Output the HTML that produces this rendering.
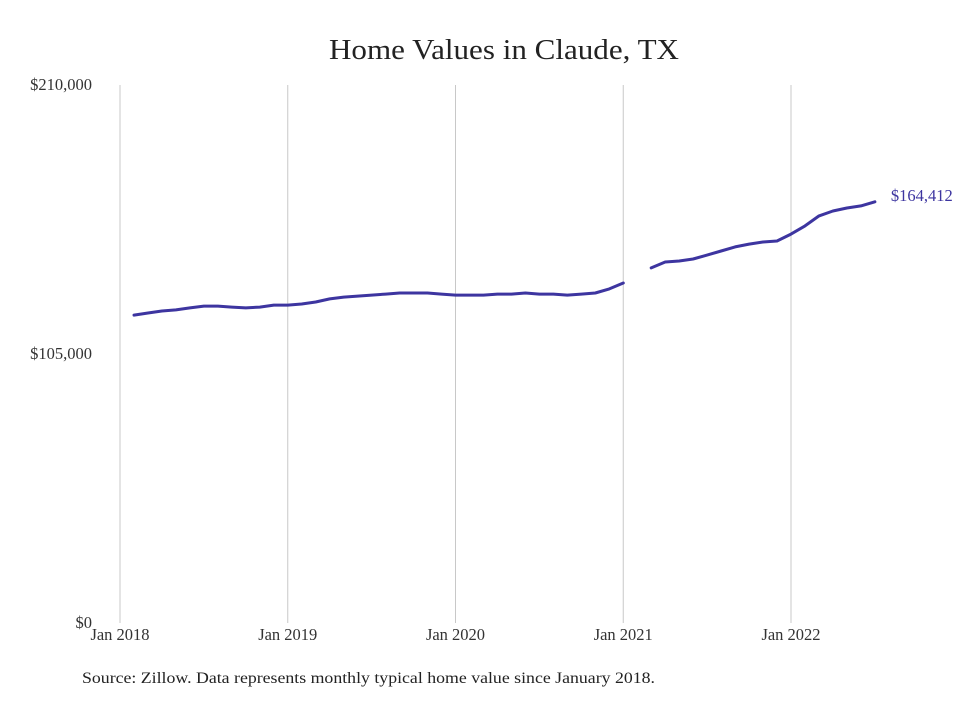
<!DOCTYPE html>
<html><head><meta charset="utf-8"><style>
body{margin:0;background:#fff;}
svg text{font-family:"Liberation Serif",serif;}
</style></head><body>
<svg width="980" height="699" xmlns="http://www.w3.org/2000/svg">
<rect width="980" height="699" fill="#fff"/>
<text x="504" y="59" text-anchor="middle" font-size="29" textLength="350" lengthAdjust="spacingAndGlyphs" fill="#222">Home Values in Claude, TX</text>
<g id="grid"></g><g id="ylab"></g><g id="xlab"></g><g id="series"></g>
<text x="82" y="683" font-size="16" textLength="573" lengthAdjust="spacingAndGlyphs" fill="#222">Source: Zillow. Data represents monthly typical home value since January 2018.</text>
</svg>
<script>
const xTickLabels=["Jan 2018","Jan 2019","Jan 2020","Jan 2021","Jan 2022"];
const yTicks=[0,105000,210000];
const yTickLabels=["$0","$105,000","$210,000"];
// monthly values starting Feb 2018 (null = missing)
const values=[120200,121000,121800,122200,123000,123700,123700,123300,123000,123300,124100,
124100,124500,125300,126500,127200,127600,128000,128400,128800,128800,128800,128400,
128000,128000,128000,128400,128400,128800,128400,128400,128000,128400,128800,130400,
132700,null,138600,140900,141300,142100,143600,145200,146800,147900,148700,149100,
151800,155000,158900,160800,162000,162800,164412];
const startMonth=1;
const lastLabel="$164,412";
const ns="http://www.w3.org/2000/svg";
const x=m=>120+m*(671/48);
const y=v=>623-v*(538/210000);
function mk(t,a,p,txt){const e=document.createElementNS(ns,t);for(const k in a)e.setAttribute(k,a[k]);if(txt!=null)e.textContent=txt;p.appendChild(e);return e;}
const grid=document.getElementById('grid'),xl=document.getElementById('xlab'),yl=document.getElementById('ylab'),se=document.getElementById('series');
xTickLabels.forEach((l,i)=>{
 const g=mk('line',{x1:x(i*12),x2:x(i*12),y1:85,y2:623,stroke:'#c8c8c8','stroke-width':1},grid);
 
 
 const t=mk('text',{x:x(i*12),y:640,'text-anchor':'middle','font-size':16.5,fill:'#333'},xl,l);
 
 
});
yTicks.forEach((v,i)=>{
 const t=mk('text',{x:92,y:y(v)+5,'text-anchor':'end','font-size':16.5,fill:'#333'},yl,yTickLabels[i]);
 
 
});
let segs=[],cur=[];
values.forEach((v,i)=>{if(v==null){if(cur.length)segs.push(cur);cur=[];}else cur.push([x(startMonth+i),y(v)]);});
if(cur.length)segs.push(cur);
segs.forEach(s=>{
 const p=mk('path',{d:'M'+s.map(q=>q[0].toFixed(1)+','+q[1].toFixed(1)).join('L'),fill:'none',stroke:'#3d35a0','stroke-width':3,'stroke-linejoin':'round','stroke-linecap':'round'},se);
 
 
});
const li=values.length-1;
const lt=mk('text',{x:x(startMonth+li)+16,y:y(values[li])-1,'font-size':16.5,fill:'#3d35a0'},se,lastLabel);


</script>
</body></html>
